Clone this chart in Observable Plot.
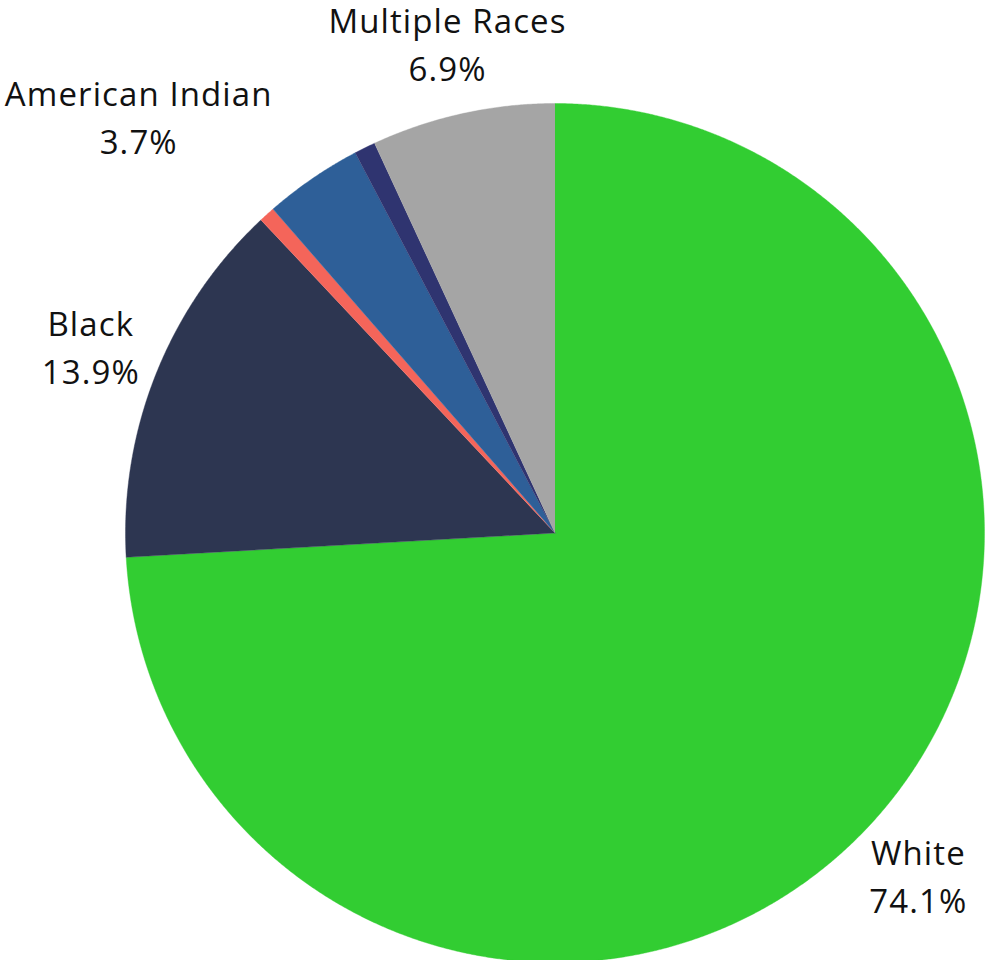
<!DOCTYPE html>
<html>
<head>
<meta charset="utf-8">
<script src="https://cdn.jsdelivr.net/npm/d3@7"></script>
<script src="https://cdn.jsdelivr.net/npm/@observablehq/plot@0.6"></script>
<style>
  html, body { margin: 0; padding: 0; background: #fff; overflow: hidden; }
  svg text { letter-spacing: 1.1px; }
</style>
</head>
<body>
<div id="chart"></div>
<script>
// Data (clockwise from 12 o'clock)
const categories = ["White", "Black", "Asian", "American Indian", "Pacific Islander", "Multiple Races"];
const values = [74.1, 13.9, 0.6, 3.7, 0.8, 6.9];
const colors = ["#32cd32", "#2d3651", "#f4655a", "#2e5f98", "#2f3470", "#a5a5a5"];
const labeled = ["White", "Black", "American Indian", "Multiple Races"];

// Build slice outlines from the values
const total = d3.sum(values);
const slices = [];
const labelRows = [];
let cum = 0;
categories.forEach((name, i) => {
  const a0 = (cum / total) * 2 * Math.PI;
  cum += values[i];
  const a1 = (cum / total) * 2 * Math.PI;
  const n = Math.max(2, Math.ceil((a1 - a0) / 0.004));
  slices.push({name, x: 0, y: 0});
  for (let k = 0; k <= n; k++) {
    const a = a0 + (a1 - a0) * k / n;
    slices.push({name, x: Math.sin(a), y: Math.cos(a)});
  }
  if (labeled.includes(name)) {
    const m = (a0 + a1) / 2;
    const r = 1.164;
    labelRows.push({name, x: r * Math.sin(m), y: r * Math.cos(m),
      text: name + "\n" + values[i].toFixed(1) + "%"});
  }
});

const W = 988, H = 960, CX = 554.5, CY = 532.5, R = 429.5;
const font = "'Open Sans', 'Noto Sans', sans-serif";

const chart = Plot.plot({
  width: W,
  height: H,
  margin: 0,
  style: {background: "#fff"},
  x: {domain: [-CX / R, (W - CX) / R], axis: null},
  y: {domain: [-(H - CY) / R, CY / R], axis: null},
  color: {domain: categories, range: colors},
  marks: [
    Plot.line(slices, {x: "x", y: "y", z: "name", fill: "name", stroke: "name", strokeWidth: 0.4, curve: "linear"}),
    Plot.text(labelRows.filter(d => d.name !== "American Indian"), {
      x: "x", y: "y", text: "text", fontSize: 33, lineHeight: 1.45,
      fill: "#111", fontFamily: font, textAnchor: "middle", lineAnchor: "middle", dy: -3
    }),
    Plot.text(labelRows.filter(d => d.name === "American Indian"), {
      x: "x", y: "y", text: "text", fontSize: 33, lineHeight: 1.45,
      fill: "#111", fontFamily: font, textAnchor: "middle", lineAnchor: "middle", dx: -134, dy: -6
    })
  ]
});
document.getElementById("chart").appendChild(chart);
</script>
</body>
</html>
